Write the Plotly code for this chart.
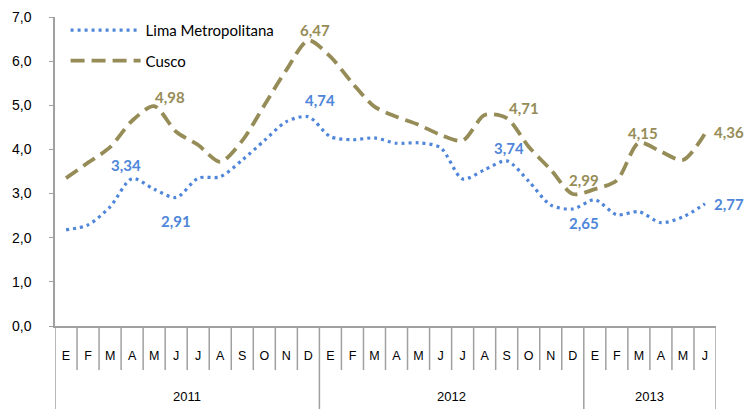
import plotly.graph_objects as go

month_labels = ["E", "F", "M", "A", "M", "J", "J", "A", "S", "O", "N", "D",
                "E", "F", "M", "A", "M", "J", "J", "A", "S", "O", "N", "D",
                "E", "F", "M", "A", "M", "J"]
year_labels = ["2011", "2012", "2013"]
year_sizes = [12, 12, 6]

lima = [2.18, 2.29, 2.70, 3.34, 3.10, 2.91, 3.35, 3.38, 3.76, 4.20, 4.63, 4.74,
        4.29, 4.22, 4.26, 4.14, 4.15, 4.04, 3.33, 3.54, 3.74, 3.28, 2.74, 2.65,
        2.86, 2.52, 2.59, 2.34, 2.47, 2.77]
cusco = [3.35, 3.70, 4.05, 4.65, 4.98, 4.40, 4.10, 3.72, 4.20, 5.00, 5.80, 6.47,
         6.10, 5.50, 4.97, 4.74, 4.56, 4.33, 4.20, 4.78, 4.71, 4.06, 3.54, 2.99,
         3.10, 3.30, 4.15, 3.95, 3.76, 4.36]

lima_labels = [3, 5, 11, 20, 23, 29]
lima_offsets = [(-6, 14), (0, -23), (12, 17), (2, 13), (11, -14), (24, 0)]
cusco_labels = [4, 11, 20, 23, 26, 29]
cusco_offsets = [(16, 9), (7, 10), (17, 10), (11, 14), (4, 10), (24, 2)]

blue = "#4F86D9"
olive = "#968C57"
grid = "#A0A0A0"

idx = list(range(len(month_labels)))

fig = go.Figure()
fig.add_trace(go.Scatter(
    x=idx, y=lima, name="Lima Metropolitana", mode="lines",
    line=dict(color=blue, width=3.2, dash="3px,4px", shape="spline", smoothing=0.8),
    legendgroup="a"))
fig.add_trace(go.Scatter(
    x=idx, y=cusco, name="Cusco", mode="lines",
    line=dict(color=olive, width=3.8, dash="14px,7px", shape="spline", smoothing=0.8),
    legendgroup="b"))

def fmt(v):
    return f"{v:.2f}".replace(".", ",")

ann = []
for i, (dx, dy) in zip(lima_labels, lima_offsets):
    ann.append(dict(x=i, y=lima[i], xref="x", yref="y", text="<b>" + fmt(lima[i]) + "</b>",
                    showarrow=False, xshift=dx, yshift=dy,
                    font=dict(family="Lato", size=15, color=blue)))
for i, (dx, dy) in zip(cusco_labels, cusco_offsets):
    ann.append(dict(x=i, y=cusco[i], xref="x", yref="y", text="<b>" + fmt(cusco[i]) + "</b>",
                    showarrow=False, xshift=dx, yshift=dy,
                    font=dict(family="Lato", size=15, color=olive)))

# year labels and separators
plot_h = 409 - 17 - 83
month_sep = -44 / plot_h
year_sep = -83 / plot_h
shapes = []
start = 0
for lab, n in zip(year_labels, year_sizes):
    ann.append(dict(x=start + (n - 1) / 2, y=-70 / plot_h, xref="x", yref="paper",
                    text=lab, showarrow=False, yanchor="middle",
                    font=dict(family="Liberation Sans", size=13, color="black")))
    shapes.append(dict(type="line", xref="x", yref="paper", x0=start - 0.5, x1=start - 0.5,
                       y0=0, y1=year_sep, line=dict(color=grid, width=1.5)))
    start += n
shapes.append(dict(type="line", xref="x", yref="paper", x0=start - 0.5, x1=start - 0.5,
                   y0=0, y1=year_sep, line=dict(color=grid, width=1.5)))
for k in range(1, len(month_labels)):
    if k in (12, 24):
        continue
    shapes.append(dict(type="line", xref="x", yref="paper", x0=k - 0.5, x1=k - 0.5,
                       y0=0, y1=month_sep, line=dict(color=grid, width=1.5)))

fig.update_layout(
    width=745, height=409,
    margin=dict(l=55, r=29, t=17, b=83, autoexpand=False),
    paper_bgcolor="white", plot_bgcolor="white",
    separators=", ",
    font=dict(family="Liberation Sans", size=12, color="black"),
    annotations=ann,
    shapes=shapes,
    showlegend=True,
    legend=dict(x=0.016, y=1.01, xanchor="left", yanchor="top",
                font=dict(family="Lato", size=15, color="black"),
                itemwidth=70, tracegroupgap=8, bgcolor="rgba(0,0,0,0)",
                traceorder="grouped"),
    yaxis=dict(range=[0, 7], dtick=1, tickformat=".1f", showgrid=False,
               showline=True, linecolor=grid, linewidth=1.5,
               ticks="outside", ticklen=4, tickcolor=grid,
               ticklabelstandoff=15,
               zeroline=False, tickfont=dict(size=14), automargin=False),
    xaxis=dict(range=[-0.5, len(month_labels) - 0.5], tickmode="array",
               tickvals=idx, ticktext=month_labels, ticks="",
               showgrid=False, showline=True, zeroline=False,
               linecolor=grid, linewidth=1.5, ticklabelstandoff=17,
               tickfont=dict(size=12.5), automargin=False),
)

fig.write_html("out.html", config={"displayModeBar": False},
               post_script="document.body.style.margin='0px';document.body.style.overflow='hidden';")
